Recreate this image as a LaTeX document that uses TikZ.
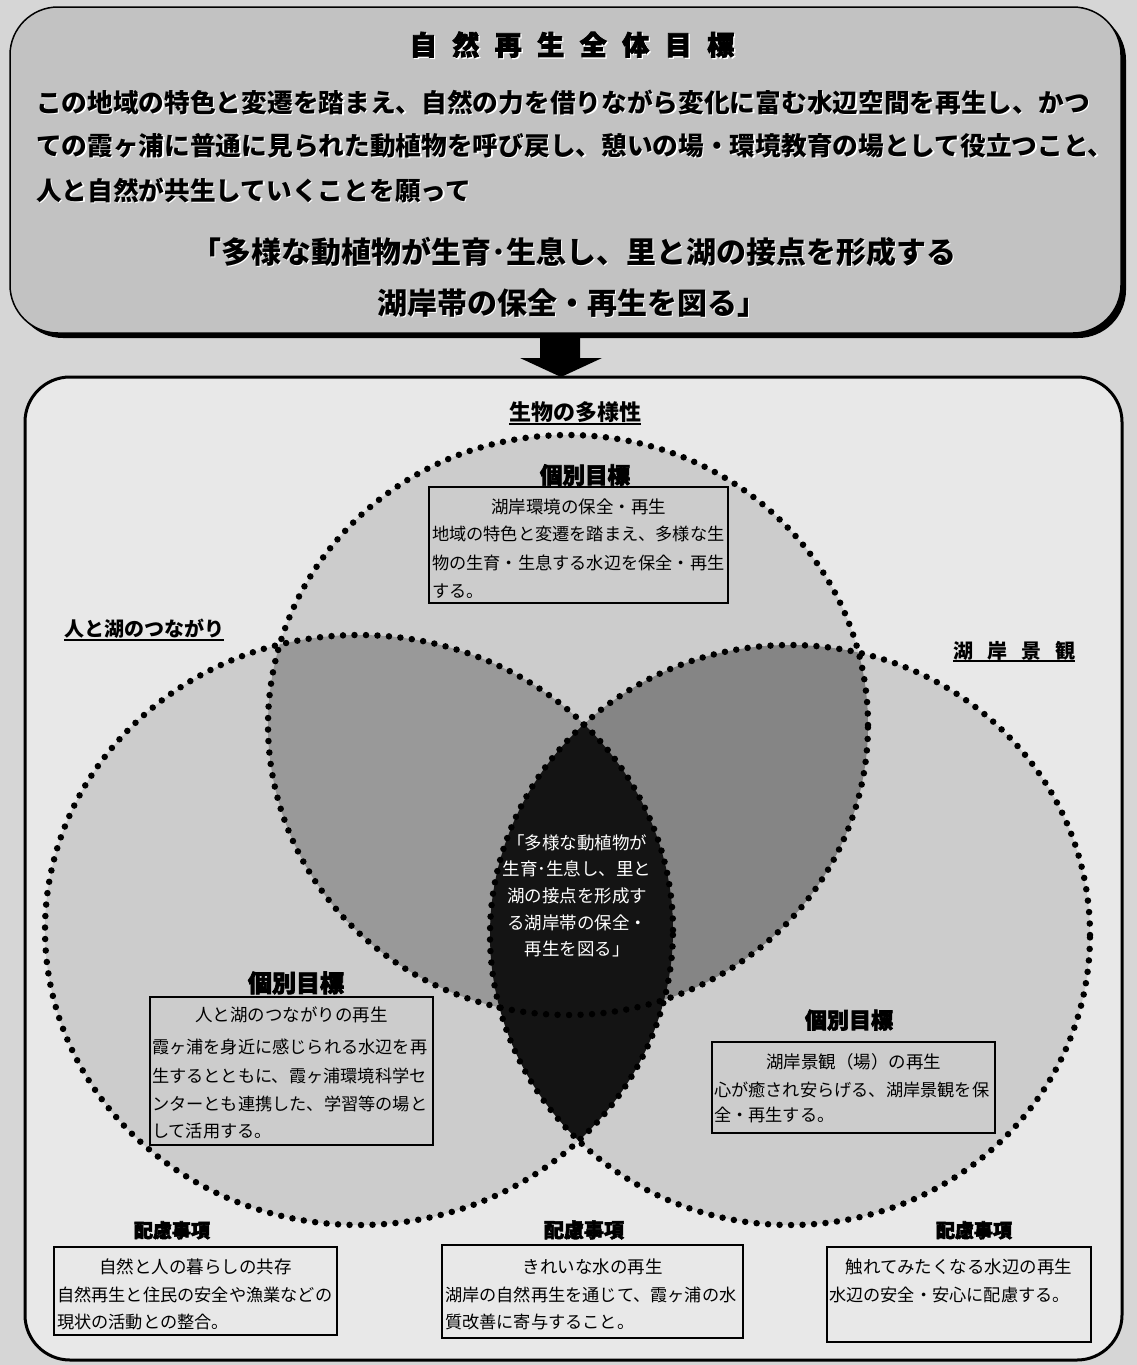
\documentclass[tikz,border=0pt]{standalone}
\usepackage{fontspec}
\newfontfamily\jp{Noto Sans CJK JP}
\newfontfamily\jph{Noto Sans CJK JP}[BoldFeatures={FakeBold=3}]
\definecolor{pagebg}{gray}{0.84}
\definecolor{topbg}{gray}{0.76}
\definecolor{boxbg}{gray}{0.91}
\definecolor{circbg}{gray}{0.80}
\definecolor{pairL}{gray}{0.60}
\definecolor{pairR}{gray}{0.52}
\definecolor{lensbg}{gray}{0.08}
\newcommand\fs[2]{\fontsize{#1}{#2}\selectfont}
\newcommand\hl[1]{\leavevmode\rlap{\kern1.3pt\raisebox{-1.3pt}{\textcolor{white}{#1}}}#1}
\begin{document}
\begin{tikzpicture}[x=1pt,y=-1pt,
  every node/.style={inner sep=0pt,outer sep=0pt},
  dotline/.style={line width=6.5pt,dash pattern=on 0pt off 11.5pt,line cap=round,draw=black},
  smallbox/.style={draw=black,line width=1.6pt},
  toptxt/.style={anchor=base west,font={\jp\bfseries\fs{25.7}{30}}},
  bigtxt/.style={anchor=base,font={\jp\bfseries\fs{30}{36}}},
  ttltxt/.style={anchor=base,font={\jph\bfseries\fs{27}{32}}},
  headtxt/.style={anchor=base,font={\jp\bfseries\fs{#1}{24}}},
  goaltxt/.style={anchor=base,font={\jph\bfseries\fs{#1}{26}}},
  bodytxt/.style={anchor=base west,font={\jp\fs{17.2}{20}}},
  boxttl/.style={anchor=base,font={\jp\fs{17.5}{20}}},
  lenstxt/.style={anchor=base,text=white,font={\jp\fs{17.5}{20}}},
  uline/.style={line width=1.4pt}
]
\useasboundingbox (0,0) rectangle (1137,1365);
\fill[pagebg] (0,0) rectangle (1137,1365);

% top box
\fill[black,rounded corners=48pt] (15,12) rectangle (1126,338);
\draw[line width=1.5pt,fill=topbg,rounded corners=48pt] (10,7) rectangle (1121,333);
\node[ttltxt] (ttl) at (572,55) {\hl{自}\hspace{15.5pt}\hl{然}\hspace{15.5pt}\hl{再}\hspace{15.5pt}\hl{生}\hspace{15.5pt}\hl{全}\hspace{15.5pt}\hl{体}\hspace{15.5pt}\hl{目}\hspace{15.5pt}\hl{標}};
\node[toptxt] (l1) at (36,112) {\hl{この地域の特色と変遷を踏まえ、自然の力を借りながら変化に富む水辺空間を再生し、かつ}};
\node[toptxt] (l2) at (36,155) {\hl{ての霞ヶ浦に普通に見られた動植物を呼び戻し、憩いの場・環境教育の場として役立つこと、}};
\node[toptxt] (l3) at (36,200) {\hl{人と自然が共生していくことを願って}};
\node[bigtxt] (l4) at (574,263) {\hl{「多様な動植物が生育･生息し、里と湖の接点を形成する}};
\node[bigtxt] (l5) at (572,314) {\hl{湖岸帯の保全・再生を図る」}};

% arrow
\fill[black] (540,333) -- (580,333) -- (580,358) -- (602,358) -- (561,377) -- (520,358) -- (540,358) -- cycle;

% bottom box
\draw[line width=3pt,fill=boxbg,rounded corners=45pt] (25,377) rectangle (1122,1360);

% circles
\coordinate (cT) at (568,725);
\coordinate (cL) at (359,930);
\coordinate (cR) at (790,935);
\fill[circbg] (cT) ellipse [x radius=300pt, y radius=290pt];
\fill[circbg] (cL) ellipse [x radius=314pt, y radius=295pt];
\fill[circbg] (cR) ellipse [x radius=300pt, y radius=290pt];
\begin{scope}
  \clip (cT) ellipse [x radius=300pt, y radius=290pt];
  \fill[pairL] (cL) ellipse [x radius=314pt, y radius=295pt];
  \fill[pairR] (cR) ellipse [x radius=300pt, y radius=290pt];
\end{scope}
\begin{scope}
  \clip (cL) ellipse [x radius=314pt, y radius=295pt];
  \fill[lensbg] (cR) ellipse [x radius=300pt, y radius=290pt];
\end{scope}
\draw[dotline] (cT) ellipse [x radius=300pt, y radius=290pt];
\draw[dotline] (cL) ellipse [x radius=314pt, y radius=295pt];
\draw[dotline] (cR) ellipse [x radius=300pt, y radius=290pt];

% circle headings
\node[headtxt=22] (bio) at (575,420) {生物の多様性};
\draw[uline] ([yshift=-4pt]bio.base west) -- ([yshift=-4pt]bio.base east);
\node[headtxt=20] (hito) at (144,636) {人と湖のつながり};
\draw[uline] ([yshift=-4pt]hito.base west) -- ([yshift=-4pt]hito.base east);
\node[headtxt=20] (kei) at (1014,658) {湖\hspace{14pt}岸\hspace{14pt}景\hspace{14pt}観};
\draw[uline] ([yshift=-3pt]kei.base west) -- ([yshift=-3pt]kei.base east);

% top goal
\node[goaltxt=22.5] (g1) at (585,483.5) {個別目標};
\node[smallbox,minimum width=299pt,minimum height=116pt,anchor=north west] (b1) at (429,487) {};
\node[boxttl] (b1t) at (578.5,513.7) {湖岸環境の保全・再生};
\node[bodytxt] (b1a) at (432,540) {地域の特色と変遷を踏まえ、多様な生};
\node[bodytxt] (b1b) at (432,569) {物の生育・生息する水辺を保全・再生};
\node[bodytxt] (b1c) at (432,597) {する。};

% left goal
\node[goaltxt=24] (g2) at (296,992) {個別目標};
\node[smallbox,minimum width=283pt,minimum height=148pt,anchor=north west] (b2) at (150,997) {};
\node[boxttl] (b2t) at (291.5,1021.7) {人と湖のつながりの再生};
\node[bodytxt] (b2a) at (152,1053.5) {霞ヶ浦を身近に感じられる水辺を再};
\node[bodytxt] (b2b) at (152,1082) {生するとともに、霞ヶ浦環境科学セ};
\node[bodytxt] (b2c) at (152,1110) {ンターとも連携した、学習等の場と};
\node[bodytxt] (b2d) at (152,1137) {して活用する。};

% right goal
\node[goaltxt=22] (g3) at (849,1028.4) {個別目標};
\node[smallbox,minimum width=283pt,minimum height=91pt,anchor=north west] (b3) at (712,1042) {};
\node[boxttl] (b3t) at (853.5,1068.7) {湖岸景観（場）の再生};
\node[bodytxt] (b3a) at (714,1096.5) {心が癒され安らげる、湖岸景観を保};
\node[bodytxt] (b3b) at (714,1121.5) {全・再生する。};

% lens text
\node[lenstxt] (m1) at (577,849) {「多様な動植物が};
\node[lenstxt] (m2) at (577,875) {生育･生息し、里と};
\node[lenstxt] (m3) at (577,902) {湖の接点を形成す};
\node[lenstxt] (m4) at (577,929) {る湖岸帯の保全・};
\node[lenstxt] (m5) at (577,955) {再生を図る」};

% considerations
\node[goaltxt=19] (h1) at (172,1237.5) {配慮事項};
\node[goaltxt=20] (h2) at (584,1237.5) {配慮事項};
\node[goaltxt=19] (h3) at (974,1237.5) {配慮事項};
\node[smallbox,minimum width=283pt,minimum height=88pt,anchor=north west] (c1) at (54,1247) {};
\node[smallbox,minimum width=301pt,minimum height=93pt,anchor=north west] (c2) at (442,1245) {};
\node[smallbox,minimum width=264pt,minimum height=95pt,anchor=north west] (c3) at (827,1247) {};
\node[boxttl] (c1t) at (195.5,1273.7) {自然と人の暮らしの共存};
\node[bodytxt] (c1a) at (57,1301.5) {自然再生と住民の安全や漁業などの};
\node[bodytxt] (c1b) at (57,1328.5) {現状の活動との整合。};
\node[boxttl] (c2t) at (592.5,1273.7) {きれいな水の再生};
\node[bodytxt] (c2a) at (445,1301.5) {湖岸の自然再生を通じて、霞ヶ浦の水};
\node[bodytxt] (c2b) at (445,1328.5) {質改善に寄与すること。};
\node[boxttl] (c3t) at (959,1273.7) {触れてみたくなる水辺の再生};
\node[bodytxt] (c3a) at (829,1301.5) {水辺の安全・安心に配慮する。};
\end{tikzpicture}
\end{document}
